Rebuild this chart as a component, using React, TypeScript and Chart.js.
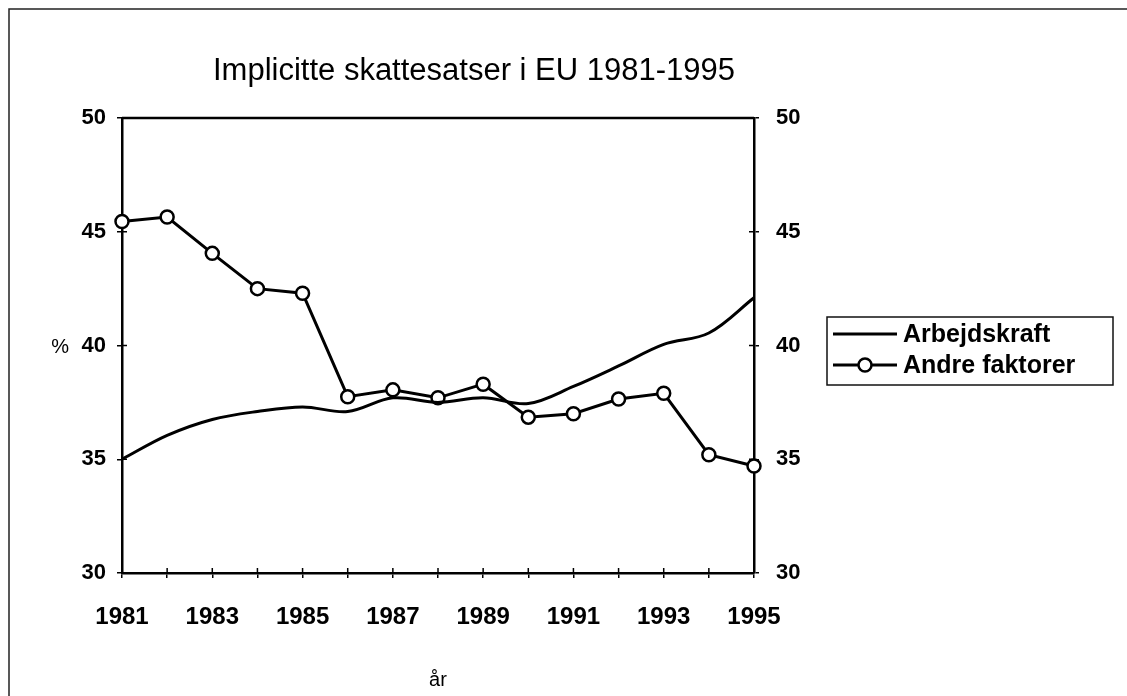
import { useEffect, useRef } from 'react';
import { Chart, registerables } from 'chart.js';

Chart.register(...registerables);

const years = ['1981', '1982', '1983', '1984', '1985', '1986', '1987', '1988', '1989', '1990', '1991', '1992', '1993', '1994', '1995'];
const shownYearLabels = ['1981', '1983', '1985', '1987', '1989', '1991', '1993', '1995'];
const arbejdskraft = [35.0, 36.05, 36.75, 37.1, 37.3, 37.1, 37.7, 37.5, 37.7, 37.45, 38.2, 39.1, 40.05, 40.55, 42.1];
const andreFaktorer = [45.45, 45.65, 44.05, 42.5, 42.3, 37.75, 38.05, 37.7, 38.3, 36.85, 37.0, 37.65, 37.9, 35.2, 34.7];
const yMin = 30;
const yMax = 50;
const yStep = 5;

const titleText = 'Implicitte skattesatser i EU 1981-1995';
const yAxisTitle = '%';
const xAxisTitle = 'år';
const seriesNames = ['Arbejdskraft', 'Andre faktorer'];

const FONT = '"Liberation Sans", Arial, Helvetica, sans-serif';

export default function App() {
  const ref = useRef<HTMLCanvasElement | null>(null);

  useEffect(() => {
    if (!ref.current) return;

    const decor = {
      id: 'decor',
      afterDraw(chart: any) {
        const ctx = chart.ctx as CanvasRenderingContext2D;
        const a = chart.chartArea;
        ctx.save();
        // outer frame (top and left)
        ctx.strokeStyle = '#222';
        ctx.lineWidth = 1.5;
        ctx.beginPath();
        ctx.moveTo(9, 696);
        ctx.lineTo(9, 9);
        ctx.lineTo(1127, 9);
        ctx.stroke();

        // plot area top border
        ctx.strokeStyle = '#000';
        ctx.lineWidth = 2.5;
        ctx.beginPath();
        ctx.moveTo(a.left, a.top);
        ctx.lineTo(a.right, a.top);
        ctx.stroke();

        // inward parts of tick marks
        ctx.lineWidth = 1.5;
        const yS = chart.scales.y;
        const xS = chart.scales.x;
        yS.ticks.forEach((_t: any, i: number) => {
          const py = yS.getPixelForTick(i);
          ctx.beginPath();
          ctx.moveTo(a.left, py);
          ctx.lineTo(a.left + 5, py);
          ctx.moveTo(a.right, py);
          ctx.lineTo(a.right - 5, py);
          ctx.stroke();
        });
        xS.ticks.forEach((_t: any, i: number) => {
          const px = xS.getPixelForTick(i);
          ctx.beginPath();
          ctx.moveTo(px, a.bottom);
          ctx.lineTo(px, a.bottom - 5);
          ctx.stroke();
        });

        // title
        ctx.fillStyle = '#000';
        ctx.font = `31px ${FONT}`;
        ctx.textAlign = 'center';
        ctx.textBaseline = 'alphabetic';
        ctx.fillText(titleText, 474, 80);

        // y axis title
        ctx.font = `20px ${FONT}`;
        ctx.textAlign = 'right';
        ctx.textBaseline = 'middle';
        ctx.fillText(yAxisTitle, 69, (a.top + a.bottom) / 2 + 2);

        // legend
        const bx = 827, by = 317, bw = 286, bh = 68;
        ctx.strokeStyle = '#111';
        ctx.lineWidth = 1.5;
        ctx.strokeRect(bx, by, bw, bh);
        const rows = [by + 17, by + 48];
        ctx.lineWidth = 3;
        ctx.strokeStyle = '#000';
        rows.forEach((ry) => {
          ctx.beginPath();
          ctx.moveTo(bx + 6, ry);
          ctx.lineTo(bx + 70, ry);
          ctx.stroke();
        });
        ctx.beginPath();
        ctx.arc(bx + 38, rows[1], 6.5, 0, Math.PI * 2);
        ctx.fillStyle = '#fff';
        ctx.fill();
        ctx.lineWidth = 2.5;
        ctx.stroke();
        ctx.fillStyle = '#000';
        ctx.font = `bold 25px ${FONT}`;
        ctx.textAlign = 'left';
        ctx.textBaseline = 'middle';
        ctx.fillText(seriesNames[0], bx + 76, rows[0] + 1);
        ctx.fillText(seriesNames[1], bx + 76, rows[1] + 1);

        ctx.restore();
      },
    };

    const yTickFont = { family: FONT, size: 22, weight: 'bold' as const };
    const xTickFont = { family: FONT, size: 24, weight: 'bold' as const };

    const chart = new Chart(ref.current, {
      type: 'line',
      data: {
        labels: years,
        datasets: [
          {
            label: seriesNames[0],
            data: arbejdskraft,
            borderColor: '#000',
            borderWidth: 3,
            pointRadius: 0,
            tension: 0.35,
            fill: false,
            yAxisID: 'y',
          },
          {
            label: seriesNames[1],
            data: andreFaktorer,
            borderColor: '#000',
            borderWidth: 3,
            pointRadius: 6.5,
            pointBorderWidth: 2.5,
            pointBackgroundColor: '#fff',
            pointBorderColor: '#000',
            tension: 0,
            fill: false,
            yAxisID: 'y',
          },
        ],
      },
      options: {
        responsive: false,
        animation: false,
        layout: { padding: { top: 118, left: 0, right: 0, bottom: 0 } },
        plugins: {
          legend: { display: false },
          title: { display: false },
          tooltip: { enabled: false },
        },
        scales: {
          x: {
            type: 'category',
            offset: false,
            border: { display: true, color: '#000', width: 2.5 },
            grid: { display: true, drawOnChartArea: false, drawTicks: true, tickLength: 5, color: '#000', lineWidth: 1.5 },
            ticks: {
              autoSkip: false,
              maxRotation: 0,
              minRotation: 0,
              padding: 25,
              color: '#000',
              font: xTickFont,
              callback: (_v: any, i: number) => (shownYearLabels.includes(years[i]) ? years[i] : ''),
            },
            title: {
              display: true,
              text: xAxisTitle,
              color: '#000',
              font: { family: FONT, size: 20 },
              padding: { top: 0, bottom: 4 },
            },
            afterFit: (s: any) => {
              s.height = 696 - 573;
            },
          },
          y: {
            type: 'linear',
            position: 'left',
            min: yMin,
            max: yMax,
            border: { display: true, color: '#000', width: 2.5 },
            grid: { display: true, drawOnChartArea: false, drawTicks: true, tickLength: 5, color: '#000', lineWidth: 1.5 },
            ticks: { stepSize: yStep, padding: 11, color: '#000', font: yTickFont },
            afterFit: (s: any) => {
              s.width = 122;
            },
          },
          y1: {
            type: 'linear',
            position: 'right',
            min: yMin,
            max: yMax,
            border: { display: true, color: '#000', width: 2.5 },
            grid: { display: true, drawOnChartArea: false, drawTicks: true, tickLength: 5, color: '#000', lineWidth: 1.5 },
            ticks: { stepSize: yStep, padding: 17, color: '#000', font: yTickFont },
            afterFit: (s: any) => {
              s.width = 1127 - 754;
            },
          },
        },
      },
      plugins: [decor],
    });

    return () => chart.destroy();
  }, []);

  return (
    <div style={{ position: 'fixed', left: 0, top: 0, width: 1127, height: 696, background: '#fff' }}>
      <canvas ref={ref} width={1127} height={696} style={{ display: 'block' }} />
    </div>
  );
}
